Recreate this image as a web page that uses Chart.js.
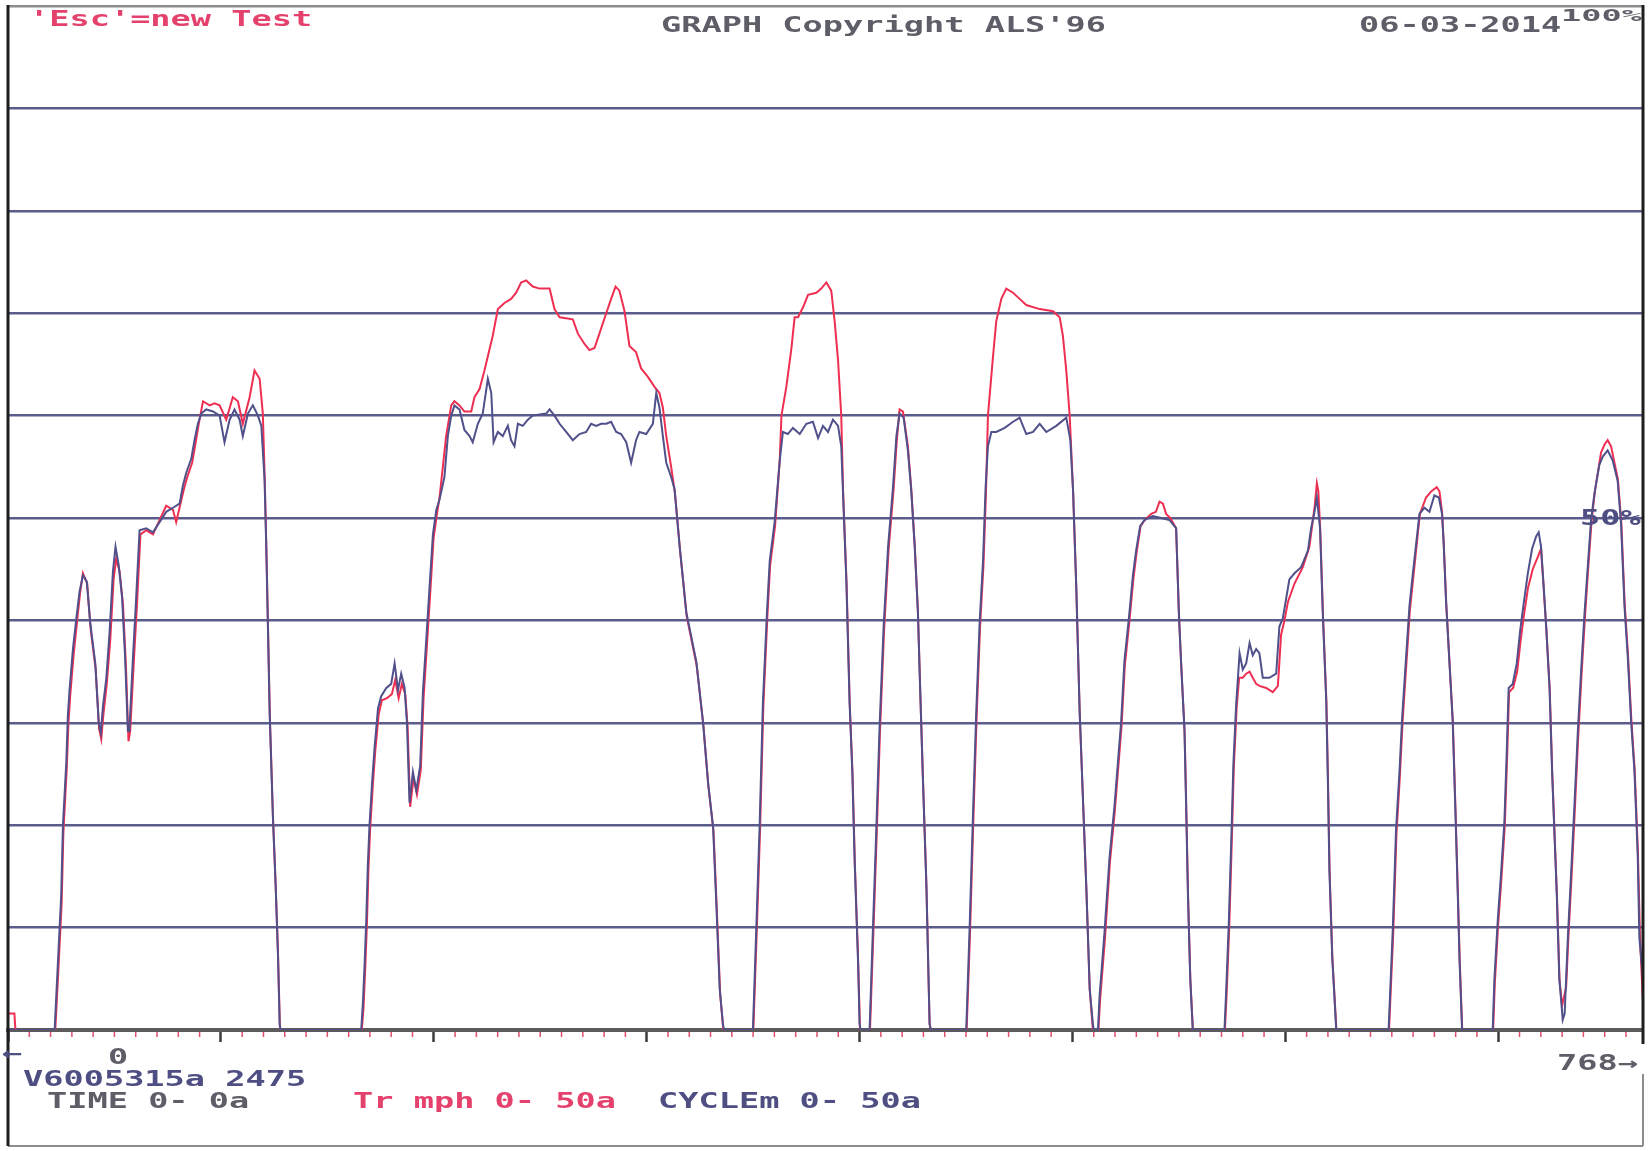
<!DOCTYPE html>
<html>
<head>
<meta charset="utf-8">
<title>GRAPH Copyright ALS'96</title>
<script src="https://cdn.jsdelivr.net/npm/chart.js@4.4.1/dist/chart.umd.min.js"></script>
<style>
  html, body { margin: 0; padding: 0; background: #fff; }
  #wrap { position: relative; width: 1652px; height: 1151px; overflow: hidden; background: #fff; }
  #chart { position: absolute; left: 0; top: 0; }
  .lbl {
    position: absolute;
    font-family: "DejaVu Sans Mono", monospace;
    font-weight: bold;
    font-size: 21px;
    line-height: 21px;
    white-space: pre;
    transform: scaleX(1.6);
    transform-origin: 0 0;
  }
  .red { color: #e4426c; }
  .grey { color: #5e5e68; }
  .navy { color: #4e4e82; }
  .small { font-size: 16px; line-height: 16px; transform: scaleX(2.1); }
</style>
</head>
<body>
<div id="wrap">
  <canvas id="chart" width="1652" height="1151"></canvas>

  <div class="lbl red" style="left:29px;top:9px">'Esc'=new Test</div>
  <div class="lbl grey" style="left:661px;top:15px">GRAPH Copyright ALS'96</div>
  <div class="lbl grey" style="left:1359px;top:15px">06-03-2014</div>
  <div class="lbl grey small" style="left:1561px;top:8px">100%</div>
  <div class="lbl navy" style="left:1580px;top:508px">50%</div>

  <div class="lbl navy" style="left:2px;top:1043px">←</div>
  <div class="lbl grey" style="left:108px;top:1047px">0</div>
  <div class="lbl grey" style="left:1557px;top:1053px">768→</div>
  <div class="lbl navy" style="left:23px;top:1069px">V6005315a 2475</div>
  <div class="lbl grey" style="left:47px;top:1091px">TIME 0- 0a</div>
  <div class="lbl red" style="left:353px;top:1091px">Tr mph 0- 50a</div>
  <div class="lbl navy" style="left:658px;top:1091px">CYCLEm 0- 50a</div>
</div>

<script>
// time axis (s) and speed axis (mph)
const timeMax = 768;
const speedMax = 50;
const speedStep = 5;

// CYCLEm trace, [seconds, mph]
const cycleTrace = [
  [0,0],[21.9,0],[23.4,3.2],[25,6.6],[25.8,10],[27.4,13.1],[28.1,15.3],[28.9,16.6],[30.5,18.6],[32.1,20.1],
  [33.6,21.4],[35.2,22.2],[37,21.9],[38.6,19.9],[41,17.9],[42.6,15],[43.6,14.5],[44.6,15.8],[46.2,17.2],[47.7,19.4],
  [49.3,22.4],[50.5,23.6],[52,22.7],[53.6,21.1],[55,18.2],[56.3,14.6],[57,14.6],[58.7,18.2],[60.2,21.1],[61.8,24.4],
  [64.9,24.5],[68.1,24.3],[71.2,24.8],[74.3,25.3],[77.5,25.5],[80.6,25.7],[82.2,26.6],[83.7,27.2],[86.1,27.9],[87.6,28.8],
  [89.2,29.6],[90.8,30.1],[93.1,30.3],[96.3,30.2],[99.4,30],[101.7,28.7],[104.1,29.8],[106.4,30.3],[108.8,29.8],[110.3,29],
  [112.7,30.1],[115,30.5],[117.4,30],[119,29.5],[120.5,26.9],[121.3,23.6],[122.1,19.6],[122.9,15.5],[124.4,10.5],[125.7,7.1],
  [126.8,3.7],[127.6,0.3],[128,0],
  [165.9,0],[166.7,1.3],[167.5,3.2],[168.3,5.4],[169,8],[169.8,10],[171.1,12.2],[172.2,13.8],[173.8,15.7],[175.3,16.3],
  [177.7,16.7],[180,16.9],[181.6,17.9],[183.2,16.6],[184.7,17.4],[186.3,16.7],[187.4,15],[188.6,11.1],[190.2,12.6],[191.8,11.7],
  [193.6,12.9],[194.9,16.5],[196.5,19.1],[198,21.6],[199.6,24.2],[201.2,25.4],[202.7,25.9],[205,27],[206.6,29],[208.2,30],
  [209.7,30.5],[212.1,30.3],[214.4,29.3],[216.8,29],[218.3,28.7],[220.7,29.6],[223,30.1],[225.4,31.8],[227,31.1],[228.1,28.7],
  [230.1,29.2],[232.4,29],[234.8,29.5],[236.3,28.8],[237.9,28.5],[239.5,29.6],[241.8,29.5],[244.2,29.8],[246.5,30],[249.7,30.05],
  [252.8,30.1],[254.4,30.3],[256.7,30],[259.1,29.6],[262.2,29.2],[265.3,28.8],[268.4,29.1],[271.6,29.2],[273.9,29.6],[276.3,29.5],
  [278.6,29.6],[281,29.6],[283.3,29.7],[285.7,29.2],[288,29.1],[290.4,28.7],[292.7,27.7],[295,28.8],[296.6,29.2],[299.8,29.1],
  [302.9,29.6],[304.5,31.1],[306,30.4],[307.6,29],[309.2,27.7],[311.5,27],[313.1,26.4],[315.5,23.6],[318.6,20.4],[323.3,18],
  [326.5,15],[328.8,12.1],[331.2,9.9],[332.7,6.2],[334.3,2],[335.9,0.2],[336.5,0],
  [349.9,0],[351.5,5],[353.1,10.1],[354.6,16],[356.5,20.4],[357.8,22.9],[360.1,24.8],[362.5,27.8],[364,29.2],[366.3,29.1],
  [368.7,29.4],[371.9,29.1],[375,29.6],[378.1,29.7],[380.5,28.9],[382.8,29.5],[385.2,29.2],[387.5,29.8],[389.9,29.5],[391.4,28.5],
  [392.2,26.3],[393.8,21.9],[395.3,16],[396.6,12.6],[397.7,8.2],[399.3,3.3],[400,0.3],[400.5,0],
  [404.7,0],[406.3,5],[407.9,9.9],[409.4,14.8],[411.3,19.7],[413.4,23.6],[415.7,26.5],[417.3,29],[418.8,30.1],[420.7,29.9],
  [422.7,28.3],[424.3,26.3],[425.9,23.6],[427.4,20.4],[428.5,16.5],[429.8,12.1],[431.4,7],[432.9,0.3],[433.5,0],
  [450.1,0],[451.7,5],[453.3,10.6],[454.8,15.5],[456.4,19.9],[458,22.9],[459.2,26.5],[460.3,28.5],[461.9,29.2],[464.2,29.2],
  [468.2,29.4],[472.1,29.7],[475.2,29.9],[478.3,29.1],[481.5,29.2],[484.6,29.6],[487.7,29.2],[492.4,29.5],[497.1,29.9],[499,28.8],
  [500.3,26.3],[501.8,21.6],[503.4,15.5],[505,11.1],[506.5,7],[508.1,2],[509.6,0.3],[510,0],
  [512,0],[512.7,1.6],[515,4.7],[517.4,8.4],[519.7,10.9],[521.3,13],[522.9,15.1],[524.4,18],[526.5,20.1],[528.4,22.2],
  [529.9,23.4],[531.8,24.6],[533.8,24.9],[537.7,25.1],[541.7,25],[545.6,24.9],[548.7,24.5],[550,20.3],[551,18],[552.6,14.7],
  [553.4,10.9],[554.2,6.8],[555.3,2.6],[556.5,0],
  [571.4,0],[572.2,1.9],[573.4,5.1],[574.5,8.9],[575.6,13],[576.9,15.9],[578.5,18.4],[580,17.6],[581.6,17.9],[583.2,18.9],
  [584.7,18.3],[586.3,18.6],[587.8,18.4],[589.4,17.2],[592.5,17.2],[595.7,17.4],[597.2,19.7],[598.8,20.1],[601.9,22],[604.3,22.3],
  [607.4,22.6],[610.6,23.4],[612.1,24.5],[613.7,25.3],[614.8,26],[616.3,24.5],[617.6,20.3],[619.2,16.1],[620,12],[620.7,7.8],
  [622,3.6],[623.9,0],
  [648.5,0],[650.5,5],[652,9.8],[653.6,12.6],[654.9,15.3],[656.4,17.7],[658.3,20.7],[659.9,22.3],[661.4,23.7],[663,25.2],
  [665.3,25.5],[667.7,25.3],[670,26.1],[672.1,26],[673.6,25.2],[674.3,23.9],[675.5,20.9],[677.1,17.9],[678.6,15.1],[679.9,10.6],
  [681,6.6],[681.8,3.5],[683,0],
  [697.4,0],[698.2,2.5],[699.8,5.4],[701.3,7.6],[702.9,10.2],[704,13.6],[704.9,16.7],[706.8,16.9],[708.7,17.9],[710.3,19.5],
  [711.8,20.7],[713.9,22.3],[715.9,23.5],[717.8,24.1],[719,24.3],[720.1,23.6],[721.2,21.9],[722.5,19.7],[724.1,16.7],[725.3,12.6],
  [726.4,9.6],[727.5,6.6],[728.7,2.5],[730.3,0.5],[731.2,0.8],[732.7,4.5],
  [734.2,7.6],[735.8,11],[737.4,14.6],[738.9,17.5],[740.5,20.3],[742.1,22.7],[743.6,24.9],[745.2,26.2],[747.5,27.6],[749.1,28],
  [751.4,28.3],[753.8,27.8],[756.1,26.8],[757.7,24.7],[759.3,20.7],[760.8,18.3],[762.4,15.1],[764,12.6],[765.5,8.6],[766.3,4.5],
  [768,2.5]
];

// Tr mph trace, [seconds, mph]
const trTrace = [
  [0,0.8],[3,0.8],[3.5,0],[22.2,0],[23.6,2.8],[25.2,6.2],[26,9.6],[27.6,12.8],[28.4,15],[29.2,16.3],
  [30.8,18.3],[32.4,19.9],[33.8,21.3],[35.2,22.3],[37.2,21.8],[38.8,19.6],[41.2,17.6],[42.8,14.7],[43.8,14.2],[44.8,15.4],
  [46.4,16.9],[48,19],[49.6,22],[50.8,23],[52.4,22.4],[54,20.8],[55.4,17.8],[56.6,14.1],[57.4,14.6],[59,17.8],
  [60.6,20.8],[62.2,24.2],[65,24.4],[68.1,24.2],[71.2,24.9],[74.3,25.6],[77.5,25.4],[79,24.8],[80.8,25.6],[82.6,26.4],
  [84.2,27],[86.5,27.7],[88,28.6],[89.6,29.6],[91.6,30.7],[94.7,30.5],[97,30.6],[99.4,30.5],[102.5,29.8],[105.6,30.9],
  [108,30.7],[110.3,29.6],[113.5,30.9],[115.8,32.2],[118.2,31.8],[119.7,30.1],[120.6,26.9],[121.4,23.4],[122.2,19.4],[123,15.3],
  [124.5,10.3],[125.8,6.9],[126.9,3.5],[127.7,0.2],[128,0],
  [166.2,0],[167,1.1],[167.8,3],[168.6,5.2],[169.3,7.8],[170.1,9.8],[171.4,12],[172.5,13.6],[174.1,15.4],[175.6,16.1],
  [178,16.2],[180.3,16.4],[181.9,17.1],[183.5,16.2],[185,16.9],[186.6,16.4],[187.7,14.8],[188.9,10.9],[190.5,12.3],[192.1,11.5],
  [193.9,12.7],[195.2,16.2],[196.8,18.8],[198.3,21.3],[199.9,24],[201.5,25.2],[202.7,26],[205.8,29],[208.2,30.5],[209.7,30.7],
  [212.1,30.5],[214.4,30.2],[217.6,30.2],[219.1,30.9],[221.5,31.3],[223.8,32.2],[225.4,32.9],[227.7,33.9],[230.1,35.2],[233.2,35.5],
  [236.3,35.7],[238.7,36],[241,36.5],[243.4,36.6],[246.5,36.3],[249.7,36.2],[254.4,36.2],[256.7,35.2],[259.1,34.8],[265.3,34.7],
  [267.7,34],[270.8,33.5],[273.1,33.2],[275.5,33.3],[277.8,34],[281,35],[283.3,35.7],[285.4,36.3],[287.2,36.1],[289.6,35.1],
  [291.9,33.4],[295,33.1],[297.4,32.3],[300.5,31.9],[303.7,31.4],[306,31.1],[307.6,30.4],[309.2,29],[311.5,27.5],[313.3,26.2],
  [315.7,23.4],[318.8,20.2],[323.5,17.8],[326.7,14.8],[329,11.9],[331.4,9.7],[332.9,6],[334.5,1.8],[336,0],
  [350.1,0],[351.7,4.8],[353.3,9.9],[354.8,15.8],[356.7,20.2],[358,22.7],[360.3,24.6],[362.5,27.8],[363.3,30],[365.6,31.4],
  [368,33.3],[369.5,34.8],[371.1,34.8],[373.5,35.3],[375.8,35.9],[379.7,36],[382,36.2],[384.4,36.5],[386.7,36.1],[388.3,34.6],
  [389.9,32.7],[391.4,30],[392.3,26.2],[393.9,21.8],[395.4,15.9],[396.7,12.5],[397.8,8.1],[399.4,3.2],[400.2,0],
  [404.9,0],[406.5,4.8],[408.1,9.7],[409.6,14.6],[411.5,19.5],[413.6,23.4],[415.9,26.3],[417.5,28.8],[418.8,30.3],[420.4,30.2],
  [422.7,28.5],[424.3,26.4],[425.9,23.7],[427.4,20.5],[428.5,16.6],[429.8,12.2],[431.4,7.1],[432.9,0.3],[433.5,0],
  [450.3,0],[451.9,4.8],[453.5,10.4],[455,15.3],[456.6,19.7],[458.2,22.7],[459.4,26.3],[460.3,30],[462.7,32.9],[464.2,34.6],
  [466.6,35.7],[468.9,36.2],[472.1,36],[475.2,35.7],[478.3,35.4],[484.6,35.2],[490.9,35.1],[494,34.8],[495.5,33.9],[497.1,32.2],
  [498.7,30],[500.3,26.3],[501.8,21.6],[503.4,15.5],[505,11.1],[506.5,7],[508.1,2],[509.6,0],
  [512.2,0],[513,1.5],[515.3,4.5],[517.6,8.2],[519.9,10.7],[521.5,12.8],[523.1,14.9],[524.6,17.8],[526.7,19.9],[528.6,22],
  [530.1,23.3],[532,24.6],[534,24.9],[537,25.2],[539.2,25.3],[540.9,25.8],[542.5,25.7],[544,25.2],[546,25],[548.7,24.5],
  [550.1,20.1],[551.1,17.8],[552.7,14.5],[553.5,10.7],[554.3,6.6],[555.4,2.4],[556.6,0],
  [571.6,0],[572.4,1.7],[573.6,4.9],[574.7,8.7],[575.8,12.8],[577.1,15.7],[578.3,17.2],[580,17.2],[581.6,17.4],[583.2,17.5],
  [584.7,17.2],[586.3,16.9],[587.8,16.8],[591,16.7],[594.1,16.5],[596.5,16.8],[598,19.3],[599.6,20],[601.2,20.9],[604.3,21.8],
  [608.2,22.6],[611.3,23.6],[613.7,25.5],[614.8,26.7],[615.5,26.3],[616.4,24.4],[617.7,20.2],[619.3,16],[620.1,11.9],[620.8,7.7],
  [622.1,3.5],[624,0],
  [648.7,0],[650.7,4.8],[652.2,9.6],[653.8,12.4],[655.1,15.1],[656.6,17.5],[658.5,20.5],[660.1,22.1],[661.6,23.6],[663.2,25.2],
  [666.1,26],[668.5,26.3],[671.1,26.5],[672.4,26.3],[673.6,25.3],[674.4,23.8],[675.6,20.8],[677.2,17.8],[678.7,15],[680,10.5],
  [681.1,6.5],[681.9,3.4],[683.1,0],
  [697.6,0],[698.4,2.3],[700,5.2],[701.5,7.4],[703.1,10],[704.2,13.4],[705.1,16.5],[707,16.7],[708.9,17.5],[710.5,19],
  [712,20.2],[714,21.6],[716.2,22.5],[718.6,23.1],[720.1,23.5],[721.2,21.8],[722.6,19.6],[724.2,16.6],[725.4,12.5],[726.5,9.5],
  [727.6,6.5],[728.8,2.4],[730,1.2],[731.9,2.1],[732.9,4.4],
  [734.4,7.4],[736,10.8],[737.6,14.4],[739.1,17.3],[740.7,20.1],[742.3,22.6],[743.8,24.8],[745.4,26.3],[748.3,28.2],[750,28.6],
  [751.4,28.8],[753,28.5],[756.2,26.9],[757.8,24.8],[759.4,20.8],[760.9,18.4],[762.5,15.2],[764.1,12.7],[765.6,8.7],[766.6,4.5],
  [767.9,1.5]
];

const cycleColor = '#50508a';
const trColor = '#ee2f52';
const gridColor = '#5a5c8c';

function toPoints(trace) {
  return trace.map(p => ({ x: p[0], y: p[1] }));
}

// frame round the plot plus the small 10 s ticks under the base line
const framePlugin = {
  id: 'frame',
  afterDraw(chart) {
    const ctx = chart.ctx;
    const a = chart.chartArea;
    const xs = chart.scales.x;

    ctx.save();
    ctx.strokeStyle = '#8c8c8c';
    ctx.lineWidth = 2;
    ctx.beginPath();
    ctx.moveTo(a.left, 1146);
    ctx.lineTo(a.right, 1146);
    ctx.moveTo(a.right, 1074);
    ctx.lineTo(a.right, 1146);
    ctx.stroke();

    ctx.strokeStyle = '#1e1e1e';
    ctx.lineWidth = 3;
    ctx.beginPath();
    ctx.moveTo(a.left, a.top - 1);
    ctx.lineTo(a.left, 1146);
    ctx.moveTo(a.right, a.top - 1);
    ctx.lineTo(a.right, a.bottom + 14);
    ctx.stroke();

    ctx.strokeStyle = '#e0506e';
    ctx.lineWidth = 1.5;
    ctx.beginPath();
    for (let t = 10; t < timeMax; t += 10) {
      if (t % 100 === 0) continue;
      const px = xs.getPixelForValue(t);
      ctx.moveTo(px, a.bottom + 2);
      ctx.lineTo(px, a.bottom + 7);
    }
    ctx.stroke();
    ctx.restore();
  }
};

const ctx = document.getElementById('chart').getContext('2d');
const chart = new Chart(ctx, {
  type: 'line',
  data: {
    datasets: [
      {
        label: 'CYCLEm',
        data: toPoints(cycleTrace),
        borderColor: cycleColor,
        borderWidth: 2,
        pointRadius: 0,
        tension: 0,
        fill: false
      },
      {
        label: 'Tr mph',
        data: toPoints(trTrace),
        borderColor: trColor,
        borderWidth: 2,
        pointRadius: 0,
        tension: 0,
        fill: false
      }
    ]
  },
  options: {
    responsive: false,
    animation: false,
    layout: { padding: { left: 8, top: 6, right: 9, bottom: 0 } },
    plugins: {
      legend: { display: false },
      tooltip: { enabled: false }
    },
    scales: {
      x: {
        type: 'linear',
        min: 0,
        max: timeMax,
        ticks: { display: false, stepSize: 100 },
        grid: {
          drawOnChartArea: false,
          drawTicks: true,
          tickLength: 12,
          tickWidth: 2.5,
          tickColor: c => (c.tick && c.tick.value % 100 === 0) ? '#3c3c3c' : 'rgba(0,0,0,0)'
        },
        border: { color: '#5b5b5b', width: 4 },
        afterFit: s => { s.height = 121; }
      },
      y: {
        min: 0,
        max: speedMax,
        ticks: { display: false, stepSize: speedStep },
        grid: {
          drawTicks: false,
          lineWidth: 2.5,
          color: c => (c.tick.value === speedMax) ? '#8c8c8c' : (c.tick.value === 0 ? '#5b5b5b' : gridColor)
        },
        border: { display: false },
        afterFit: s => { s.width = 0; }
      }
    }
  },
  plugins: [framePlugin]
});
</script>
</body>
</html>
